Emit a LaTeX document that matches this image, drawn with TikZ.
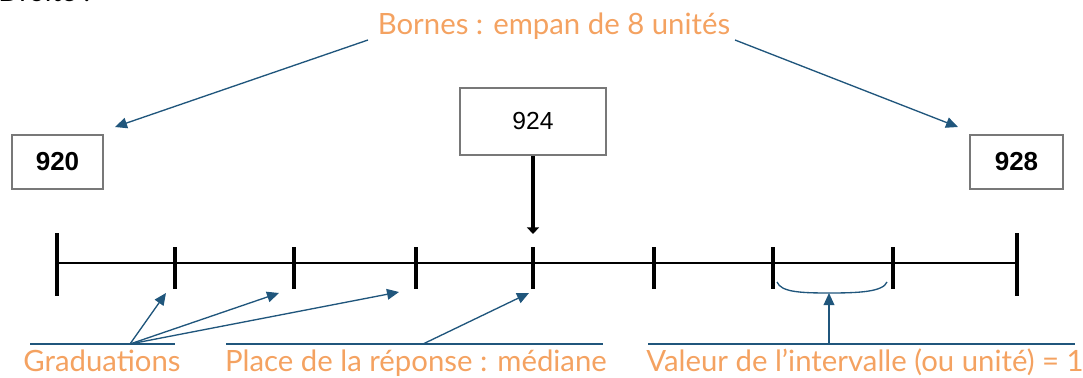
\documentclass[tikz,border=0pt]{standalone}
\usepackage{fontspec}
\setmainfont{Lato}
\newfontfamily\numfont{Liberation Sans}
\usetikzlibrary{arrows.meta}
\definecolor{lab}{RGB}{244,162,97}
\definecolor{arr}{RGB}{32,86,124}
\definecolor{boxgray}{RGB}{120,120,120}
\tikzset{
  x=0.75pt, y=-0.75pt,
  numbox/.style={draw=boxgray, line width=1.4pt, fill=white, inner sep=0pt, minimum width=#1},
  label/.style={text=lab, font=\fontsize{22}{25}\selectfont, inner sep=0pt, anchor=base},
  blue/.style={draw=arr, line width=1pt},
  bluearrow/.style={blue, -{Triangle[length=9pt, width=8pt]}},
  endtick/.style={line width=3.6pt},
  tick/.style={line width=2.8pt},
}
\begin{document}
\begin{tikzpicture}
\useasboundingbox (0,0) rectangle (1083,378);
% top cut text
\node[anchor=base west, inner sep=0pt, font=\fontsize{21}{24}\selectfont] (droite) at (-2,2) {Droite :};
% number line
\draw[line width=2pt] (57,263) coordinate (L) -- (1017,263) coordinate (R);
\draw[endtick] (57,233) -- (57,296);
\draw[endtick] (1017,233) -- (1017,296);
\foreach \xx/\nm in {175/t1,294/t2,416/t3,533/t4,654/t5,773/t6,893/t7}{
  \draw[tick] (\xx,247) -- (\xx,289);
}
% boxes
\node[numbox=68.25pt, minimum height=40.5pt, font=\numfont\bfseries\fontsize{19.5}{22}\selectfont] (b920) at (57.5,162) {920};
\node[numbox=109.5pt, minimum height=50.25pt, font=\numfont\fontsize{18.5}{22}\selectfont] (b924) at (533,121.5) {924};
\node[numbox=69.75pt, minimum height=40.5pt, font=\numfont\bfseries\fontsize{19.5}{22}\selectfont] (b928) at (1016.5,162) {928};
\coordinate (mtop) at (533,234);
\draw[line width=3.2pt, -{Triangle[length=5pt, width=9pt]}] (b924.south) -- (mtop);
% top label
\node[label] (bornes) at (554,35) {Bornes : empan de 8 unités};
\coordinate (bl) at (368,40);
\coordinate (br) at (735,40);
\coordinate (tl) at (115,127);
\coordinate (tr) at (958,127);
\draw[bluearrow] (bl) -- (tl);
\draw[bluearrow] (br) -- (tr);
% bottom labels
\node[label] (grad) at (102,371) {Graduations};
\node[label] (place) at (416,371) {Place de la réponse : médiane};
\node[label] (val) at (865,371) {Valeur de l’intervalle (ou unité) = 1};
\coordinate (gu1) at (30,344); \coordinate (gu2) at (175,344);
\coordinate (pu1) at (226,344); \coordinate (pu2) at (603,344);
\coordinate (vu1) at (648,344); \coordinate (vu2) at (1075,344);
\draw[blue] (gu1) -- (gu2);
\draw[blue] (pu1) -- (pu2);
\draw[blue] (vu1) -- (vu2);
\coordinate (g0) at (130,344);
\coordinate (ga) at (166,293);
\coordinate (gb) at (279,293);
\coordinate (gc) at (399,292);
\draw[bluearrow] (g0) -- (ga);
\draw[bluearrow] (g0) -- (gb);
\draw[bluearrow] (g0) -- (gc);
\coordinate (p0) at (423,344);
\coordinate (pa) at (529,293);
\draw[bluearrow] (p0) -- (pa);
% brace
\coordinate (br1) at (777,282);
\coordinate (br2) at (887,282);
\coordinate (brm) at (829,293);
\draw[blue] (br1) .. controls (781,292) and (800,293) .. (brm) .. controls (858,293) and (883,292) .. (br2);
\coordinate (v0) at (829,344);
\draw[bluearrow] (v0) -- (brm);
\end{tikzpicture}
\end{document}
